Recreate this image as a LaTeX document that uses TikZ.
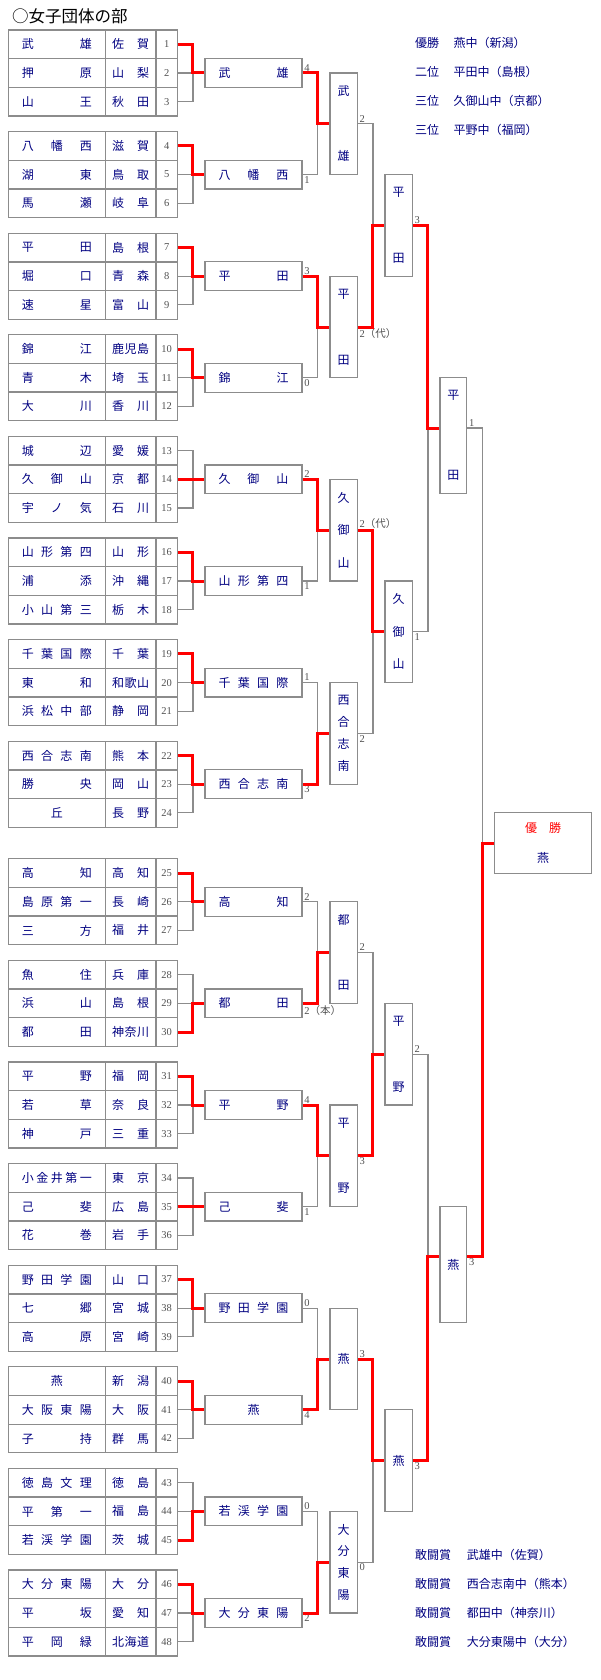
\documentclass[tikz,border=0pt]{standalone}
\usepackage{fontspec}
\setmainfont{Liberation Serif}
\newfontfamily\jp{Noto Sans CJK JP}
\usetikzlibrary{calc}

\definecolor{navy}{RGB}{0,0,128}
\definecolor{linegray}{RGB}{140,140,140}
\definecolor{numgray}{RGB}{80,80,80}

\def\sprend{sprend}
\def\hsprB#1{#1\hsprA}
\def\hsprA#1{\ifx#1\sprend\else\hfill#1\expandafter\hsprA\fi}
\def\vsprB#1{#1\vsprA}
\def\vsprA#1{\ifx#1\sprend\else\par\vfill#1\expandafter\vsprA\fi}
\newcommand\hspr[2]{\makebox[#1]{\expandafter\hsprB#2\sprend}}
\newcommand\vspr[2]{\parbox[c][#1][c]{1.5em}{\centering\expandafter\vsprB#2\sprend}}

\begin{document}
\begin{tikzpicture}[x=1pt, y=-1pt,
  cell/.style={draw=linegray, line width=1.3pt, minimum height=28.67pt, inner sep=0pt, text=navy, font=\jp\fontsize{12}{14}\selectfont},
  numcell/.style={cell, minimum width=21.3pt, text=numgray, font=\fontsize{10.5}{12}\selectfont},
  winbox/.style={draw=linegray, line width=1.2pt, minimum width=97pt, minimum height=28.67pt, inner sep=0pt, text=navy, font=\jp\fontsize{12}{14}\selectfont},
  colbox/.style={winbox, minimum width=27.3pt, minimum height=101.6pt},
  score/.style={inner sep=1.5pt, text=numgray, font=\fontsize{10.5}{12}\selectfont},
  wire/.style={draw=linegray, line width=1.2pt},
  win/.style={draw=red, line width=3pt},
  note/.style={anchor=west, inner sep=0pt, text=navy, font=\jp\fontsize{12}{15}\selectfont}]
  \useasboundingbox (0,0) rectangle (600,1680);

  \node[anchor=west, inner sep=0pt, font=\jp\fontsize{16.5}{18}\selectfont] (title) at (12,16.5) {○女子団体の部};

  \foreach \nm/\pf [count=\i] in {武雄/佐賀,押原/山梨,山王/秋田,八幡西/滋賀,湖東/鳥取,馬瀬/岐阜,
      平田/島根,堀口/青森,速星/富山,錦江/鹿児島,青木/埼玉,大川/香川,
      城辺/愛媛,久御山/京都,宇ノ気/石川,山形第四/山形,浦添/沖縄,小山第三/栃木,
      千葉国際/千葉,東和/和歌山,浜松中部/静岡,西合志南/熊本,勝央/岡山,丘/長野,
      高知/高知,島原第一/長崎,三方/福井,魚住/兵庫,浜山/島根,都田/神奈川,
      平野/福岡,若草/奈良,神戸/三重,小金井第一/東京,己斐/広島,花巻/岩手,
      野田学園/山口,七郷/宮城,高原/宮崎,燕/新潟,大阪東陽/大阪,子持/群馬,
      徳島文理/徳島,平第一/福島,若渓学園/茨城,大分東陽/大分,平坂/愛知,平岡緑/北海道} {
    \pgfmathtruncatemacro\grp{(\i-1)/3}
    \pgfmathtruncatemacro\row{\i-1-3*\grp}
    \pgfmathsetmacro\yy{44.33+101.6*\grp+16*(\grp>7)+28.67*\row}
    \node[cell, minimum width=97pt] (nm\i) at (56.8,\yy) {\hspr{70pt}{\nm}};
    \node[cell, minimum width=50.7pt] (pf\i) at (130.65,\yy) {\hspr{37pt}{\pf}};
    \node[numcell] (n\i) at (166.65,\yy) {\i};
  }

  \foreach \nm [count=\k] in {武雄,八幡西,平田,錦江,久御山,山形第四,千葉国際,西合志南,
      高知,都田,平野,己斐,野田学園,燕,若渓学園,大分東陽} {
    \pgfmathsetmacro\yy{73+101.6*(\k-1)+16*(\k>8)}
    \node[winbox] (q\k) at (253.5,\yy) {\hspr{70pt}{\nm}};
  }

  \foreach \k/\w in {1/0,2/0,3/0,4/0,5/1,6/0,7/0,8/0,9/0,10/2,11/0,12/1,13/0,14/0,15/2,16/0} {
    \pgfmathtruncatemacro\ra{3*\k-2}
    \pgfmathtruncatemacro\rb{3*\k-1}
    \pgfmathtruncatemacro\rc{3*\k}
    \pgfmathtruncatemacro\rw{3*\k-2+\w}
    \draw[wire] (n\ra.east) -- ++(15,0) |- (n\rc.east);
    \draw[wire] (n\rb.east) -- (q\k.west);
    \draw[win] (n\rw.east) -- ++(15,0) |- (q\k.west);
  }

  \foreach \k/\sc in {1/4,2/1,3/3,4/0,5/2,6/1,7/1,8/3,9/2,10/{2{\jp（本）}},11/4,12/1,13/0,14/4,15/0,16/2} {
    \ifodd\k\relax
      \node[score, anchor=south west] (qs\k) at (q\k.east) {\sc};
    \else
      \node[score, anchor=north west] (qs\k) at (q\k.east) {\sc};
    \fi
  }

  \foreach \nm [count=\j] in {武雄,平田,久御山,西合志南,都田,平野,燕,大分東陽} {
    \pgfmathsetmacro\yy{123.8+203.2*(\j-1)+16*(\j>4)}
    \node[colbox] (s\j) at (343.65,\yy) {\vspr{76pt}{\nm}};
  }

  \foreach \j/\wq in {1/1,2/3,3/5,4/8,5/10,6/11,7/14,8/16} {
    \pgfmathtruncatemacro\qa{2*\j-1}
    \pgfmathtruncatemacro\qb{2*\j}
    \draw[wire] (q\qa.east) -- ++(15,0) |- (q\qb.east);
    \draw[win] (q\wq.east) -- ++(15,0) |- (s\j.west);
  }

  \foreach \j/\sc in {1/2,2/{2{\jp（代）}},3/{2{\jp（代）}},4/2,5/2,6/3,7/3,8/0} {
    \ifodd\j\relax
      \node[score, anchor=south west] (ss\j) at (s\j.east) {\sc};
    \else
      \node[score, anchor=north west] (ss\j) at (s\j.east) {\sc};
    \fi
  }

  \node[colbox] (t1) at (398.65,225.4) {\vspr{76pt}{平田}};
  \node[colbox] (t2) at (398.65,631.8) {\vspr{76pt}{久御山}};
  \node[colbox] (t3) at (398.65,1054.2) {\vspr{76pt}{平野}};
  \node[colbox] (t4) at (398.65,1460.6) {\vspr{76pt}{燕}};

  \foreach \i/\ws in {1/2,2/3,3/6,4/7} {
    \pgfmathtruncatemacro\sa{2*\i-1}
    \pgfmathtruncatemacro\sb{2*\i}
    \draw[wire] (s\sa.east) -- ++(15,0) |- (s\sb.east);
    \draw[win] (s\ws.east) -- ++(15,0) |- (t\i.west);
  }

  \node[score, anchor=south west] (ts1) at (t1.east) {3};
  \node[score, anchor=north west] (ts2) at (t2.east) {1};
  \node[score, anchor=south west] (ts3) at (t3.east) {2};
  \node[score, anchor=north west] (ts4) at (t4.east) {3};

  \node[colbox, minimum width=26.7pt, minimum height=115.8pt] (u1) at (453.35,435.7) {\vspr{90pt}{平田}};
  \node[colbox, minimum width=26.7pt, minimum height=115.8pt] (u2) at (453.35,1264.5) {\vspr{90pt}{燕}};
  \coordinate (u1in) at ([yshift=-50.8pt]u1.north west);
  \coordinate (u1out) at ([yshift=-50.8pt]u1.north east);
  \coordinate (u2in) at ([yshift=-50.8pt]u2.north west);
  \coordinate (u2out) at ([yshift=-50.8pt]u2.north east);

  \draw[wire] (t1.east) -- ++(15,0) |- (t2.east);
  \draw[win] (t1.east) -- ++(15,0) |- (u1in);
  \draw[wire] (t3.east) -- ++(15,0) |- (t4.east);
  \draw[win] (t4.east) -- ++(15,0) |- (u2in);

  \node[score, anchor=south west] (us1) at (u1out) {1};
  \node[score, anchor=north west] (us2) at (u2out) {3};

  \node[winbox, minimum width=97.4pt, minimum height=60.6pt, align=center] (fin) at (543,843)
    {\textcolor{red}{優\hspace{1em}勝}\\[16pt]燕};
  \draw[wire] (u1out) -- ++(15,0) |- (u2out);
  \draw[win] (u2out) -- ++(15,0) |- (fin.west);

  \foreach \lb/\tx [count=\i] in {優勝/燕中（新潟）,二位/平田中（島根）,三位/久御山中（京都）,三位/平野中（福岡）} {
    \pgfmathsetmacro\yy{43.3+28.9*(\i-1)}
    \node[note] (rk\i) at (415,\yy) {\lb};
    \node[note] (rs\i) at (453.3,\yy) {\tx};
  }

  \foreach \tx [count=\i] in {武雄中（佐賀）,西合志南中（熊本）,都田中（神奈川）,大分東陽中（大分）} {
    \pgfmathsetmacro\yy{1555+28.9*(\i-1)}
    \node[note] (ak\i) at (415,\yy) {敢闘賞};
    \node[note] (as\i) at (466.7,\yy) {\tx};
  }
\end{tikzpicture}
\end{document}
